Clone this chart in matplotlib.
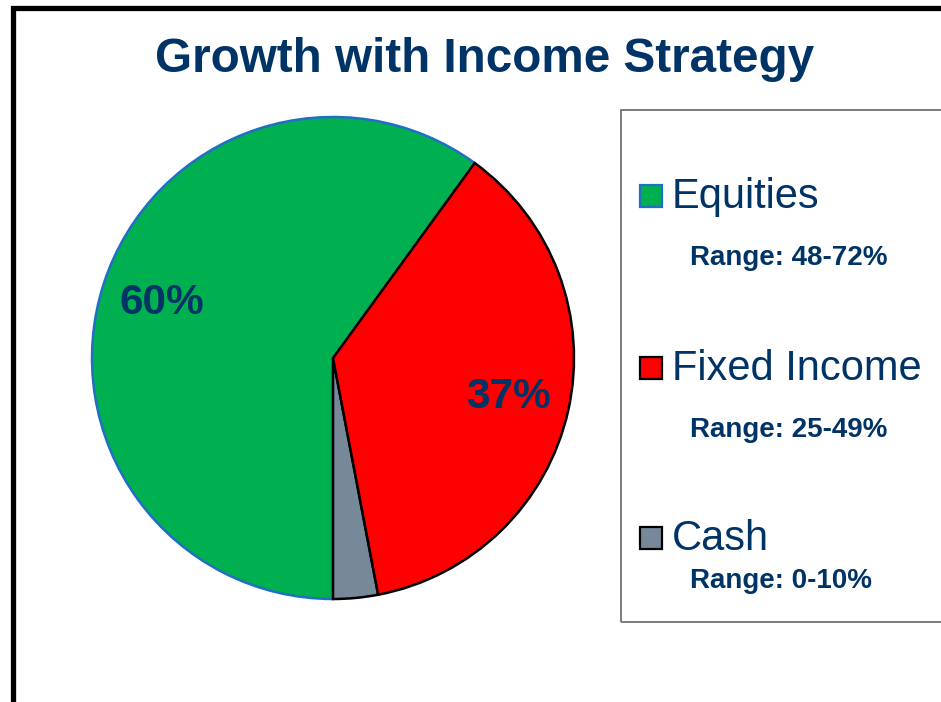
import matplotlib.pyplot as plt
from matplotlib.patches import Rectangle

plt.rcParams['font.family'] = ['Liberation Sans', 'DejaVu Sans']

NAVY = '#003366'

categories = ['Equities', 'Cash', 'Fixed Income']
shares = [60, 3, 37]
colors = ['#00B050', '#778899', '#FF0000']
edges = ['#1F6FC5', 'black', 'black']

legend_names = ['Equities', 'Fixed Income', 'Cash']
legend_ranges = ['Range: 48-72%', 'Range: 25-49%', 'Range: 0-10%']

W, H = 941, 702
fig = plt.figure(figsize=(W / 100, H / 100), dpi=100)


def fx(px):
    return px / W


def fy(py):
    return 1 - py / H


# outer frame (only top and left edges visible)
fig.patches.append(Rectangle((fx(12.5), fy(H + 20)), fx(W + 40), (H + 12.5) / H,
                             transform=fig.transFigure, fill=False,
                             edgecolor='black', linewidth=3.8))

fig.text(fx(485), fy(72), 'Growth with Income Strategy', ha='center', va='baseline',
         fontsize=34.3, fontweight='bold', color=NAVY)

# pie
cx, cy, r = 333, 358, 241
ax = fig.add_axes([fx(cx - r), fy(cy + r), fx(2 * r), 2 * r / H])
wedges, texts, autotexts = ax.pie(
    shares, colors=colors, startangle=54, counterclock=True,
    autopct=lambda p: f'{p:.0f}%' if p > 5 else '', pctdistance=0.745,
    wedgeprops=dict(linewidth=1.8, edgecolor='black'),
    textprops=dict(color=NAVY, fontsize=30.5, fontweight='bold'))
for w, ec in zip(wedges, edges):
    w.set_edgecolor(ec)
    w.set_clip_on(False)
ax.set_xlim(-1, 1)
ax.set_ylim(-1, 1)
ax.set_aspect('equal')
ax.axis('off')

# legend box
fig.patches.append(Rectangle((fx(621), fy(622)), fx(340), 512 / H,
                             transform=fig.transFigure, fill=False,
                             edgecolor='#666666', linewidth=1.2))

name_base = [208, 380, 550]
range_base = [265, 437, 588]
for i, (name, rng) in enumerate(zip(legend_names, legend_ranges)):
    k = categories.index(name)
    fig.patches.append(Rectangle((fx(640), fy(name_base[i] - 1)), fx(22), 22 / H,
                                 transform=fig.transFigure, facecolor=colors[k],
                                 edgecolor=edges[k], linewidth=1.6))
    fig.text(fx(672), fy(name_base[i]), name, ha='left', va='baseline',
             fontsize=30, color=NAVY)
    fig.text(fx(690), fy(range_base[i]), rng, ha='left', va='baseline',
             fontsize=20, fontweight='bold', color=NAVY)

fig.savefig('out.png', dpi=100, facecolor='white')
